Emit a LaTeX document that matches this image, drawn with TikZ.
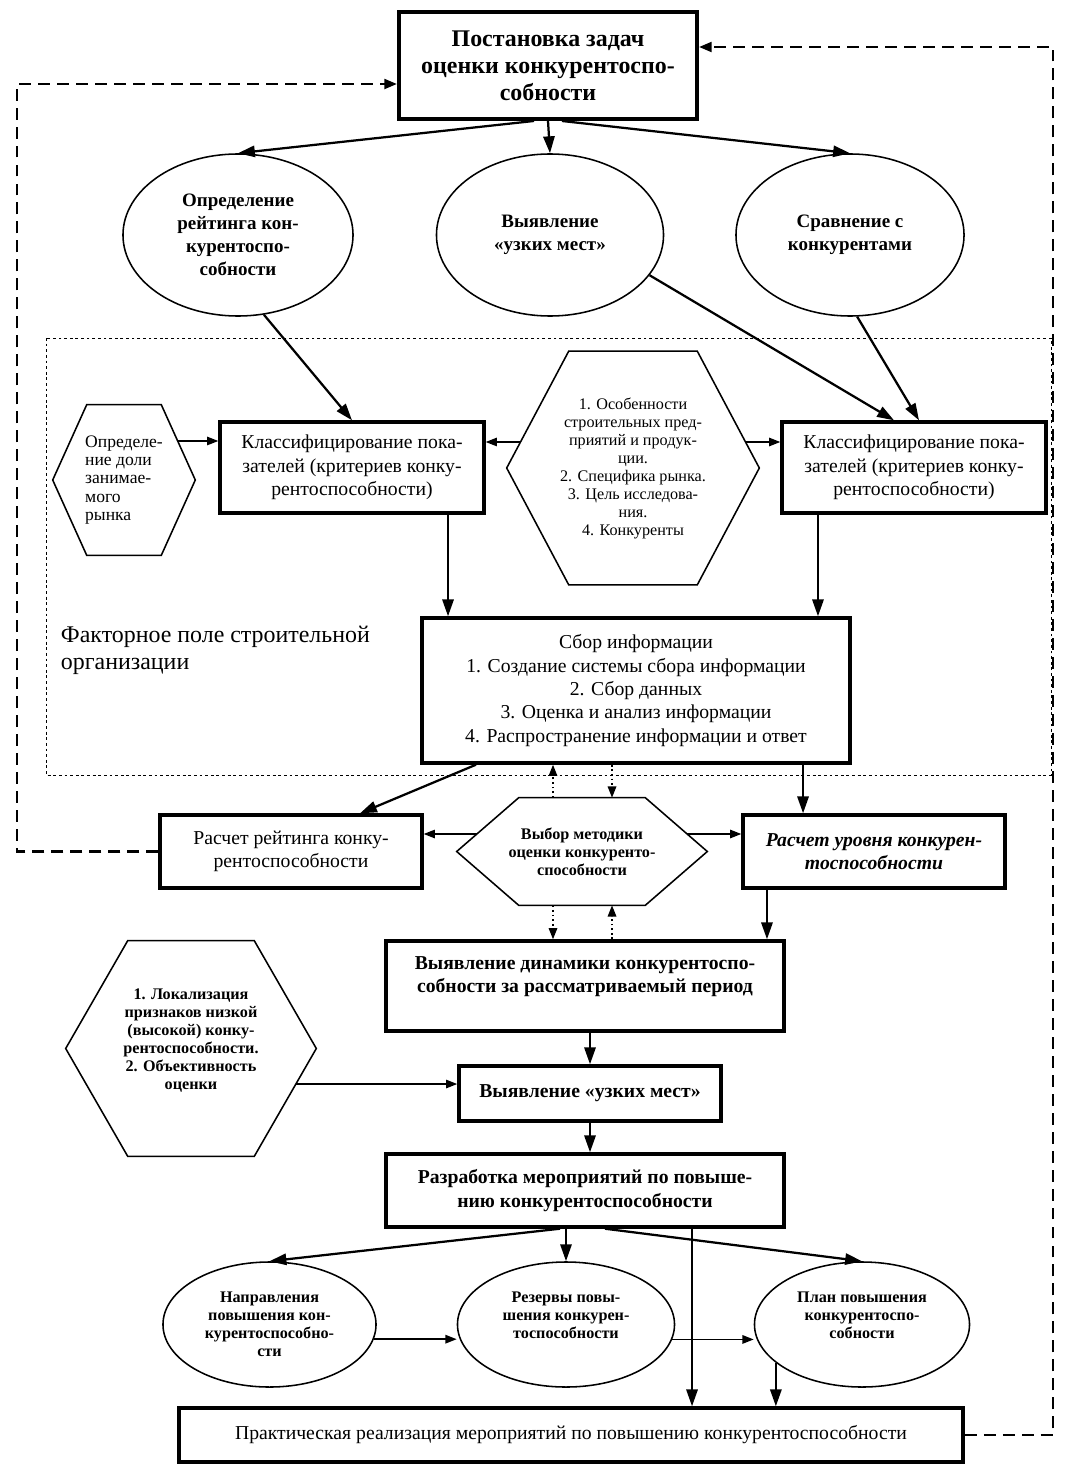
\documentclass[tikz,border=0pt]{standalone}
\usepackage{fontspec}
\setmainfont{Liberation Serif}
\usetikzlibrary{arrows.meta,shapes.geometric}

\tikzset{
  blok/.style={draw, line width=2.4pt, align=center, inner sep=2pt,
    font=\fontsize{14}{16.6}\selectfont},
  oval/.style={draw, ellipse, line width=1.1pt, align=center, inner sep=0pt,
    font=\bfseries\fontsize{13.5}{16.4}\selectfont},
  shest/.style={align=center, inner sep=1pt, font=\fontsize{11.5}{12.8}\selectfont},
  strel/.style={line width=1.6pt, -{Triangle[length=12pt,width=8pt]}},
  tonk/.style={line width=1.1pt, -{Triangle[length=8pt,width=6pt]}},
  tochki/.style={line width=1.3pt, dotted, -{Triangle[length=8pt,width=6pt]}},
  petlya/.style={line width=1.8pt, dash pattern=on 8.5pt off 5pt,
    -{Triangle[length=9pt,width=7pt]}}
}

\begin{document}
\begin{tikzpicture}[x=0.025cm, y=-0.025cm]
    \useasboundingbox (0,0) rectangle (1067,1471);
    % Факторное поле
    \draw[dash pattern=on 2pt off 2pt, line width=0.6pt] (46,338) rectangle (1051,775);
    \node[anchor=west, align=left, font=\fontsize{17}{19.2}\selectfont] (pole) at (56,650)
        {Факторное поле строительной\\организации};
    % Верхний уровень
    \node[blok, line width=2.8pt, minimum width=7.45cm, minimum height=2.675cm,
        font=\bfseries\fontsize{17}{19.2}\selectfont] (top) at (548,65.5)
        {Постановка задач\\оценки конкурентоспо-\\собности};
    \node[oval, minimum width=5.75cm, minimum height=4.05cm] (ellL) at (238,235)
        {Определение\\рейтинга кон-\\курентоспо-\\собности};
    \node[oval, minimum width=5.675cm, minimum height=4.05cm] (ellM) at (550,235)
        {Выявление\\«узких мест»};
    \node[oval, minimum width=5.7cm, minimum height=4.05cm] (ellR) at (850,235)
        {Сравнение с\\конкурентами};
    % Классификация показателей
    \node[shest, align=left, minimum width=3.55cm, minimum height=3.75cm,
        font=\fontsize{12.5}{13}\selectfont] (hexA) at (124,480)
        {Определе-\\ние доли\\занимае-\\мого\\рынка};
    \node[blok, minimum width=6.6cm, minimum height=2.275cm] (clsL) at (352,467.5)
        {Классифицирование пока-\\зателей (критериев конку-\\рентоспособности)};
    \node[shest, minimum width=6.3cm, minimum height=5.825cm] (hexB) at (633,468)
        {1. Особенности\\строительных пред-\\приятий и продук-\\ции.\\2. Специфика рынка.\\3. Цель исследова-\\ния.\\4. Конкуренты};
    \node[blok, minimum width=6.6cm, minimum height=2.275cm] (clsR) at (914,467.5)
        {Классифицирование пока-\\зателей (критериев конку-\\рентоспособности)};
    \node[blok, minimum width=10.7cm, minimum height=3.625cm] (sbor) at (636,690.5)
        {Сбор информации\\1. Создание системы сбора информации\\2. Сбор данных\\3. Оценка и анализ информации\\4. Распространение информации и ответ};
    % Расчеты
    \node[blok, minimum width=6.55cm, minimum height=1.825cm] (rasR) at (291,851.5)
        {Расчет рейтинга конку-\\рентоспособности};
    \node[shest, minimum width=6.25cm, minimum height=2.675cm,
        font=\bfseries\fontsize{11.5}{12.8}\selectfont] (hexC) at (582,851.5)
        {Выбор методики\\оценки конкуренто-\\способности};
    \node[blok, minimum width=6.55cm, minimum height=1.825cm,
        font=\bfseries\itshape\fontsize{14}{16.6}\selectfont] (rasU) at (874,851.5)
        {Расчет уровня конкурен-\\тоспособности};
    % Динамика и узкие места
    \node[blok, minimum width=9.95cm, minimum height=2.25cm,
        font=\bfseries\fontsize{14}{16.6}\selectfont] (dyn) at (585,986)
        {Выявление динамики конкурентоспо-\\собности за рассматриваемый период\\~};
    \node[blok, minimum width=6.55cm, minimum height=1.375cm,
        font=\bfseries\fontsize{14}{16.6}\selectfont] (uzk) at (590,1093.5)
        {Выявление «узких мест»};
    \node[shest, minimum width=6.25cm, minimum height=5.375cm,
        font=\bfseries\fontsize{11.5}{12.8}\selectfont] (hexD) at (191,1048.5)
        {1. Локализация\\признаков низкой\\(высокой) конку-\\рентоспособности.\\2. Объективность\\оценки\\~};
    \node[blok, minimum width=9.95cm, minimum height=1.825cm,
        font=\bfseries\fontsize{14}{16.6}\selectfont] (razr) at (585,1190.5)
        {Разработка мероприятий по повыше-\\нию конкурентоспособности};
    % Мероприятия
    \node[oval, minimum width=5.325cm, minimum height=3.125cm,
        font=\bfseries\fontsize{11.5}{12.8}\selectfont] (cL) at (269.5,1324.5)
        {Направления\\повышения кон-\\курентоспособно-\\сти};
    \node[oval, minimum width=5.425cm, minimum height=3.125cm,
        font=\bfseries\fontsize{11.5}{12.8}\selectfont] (cM) at (566,1324.5)
        {Резервы повы-\\шения конкурен-\\тоспособности\\~};
    \node[oval, minimum width=5.375cm, minimum height=3.125cm,
        font=\bfseries\fontsize{11.5}{12.8}\selectfont] (cR) at (862,1324.5)
        {План повышения\\конкурентоспо-\\собности\\~};
    \node[blok, minimum width=19.6cm, minimum height=1.35cm] (bot) at (571,1435)
        {Практическая реализация мероприятий по повышению конкурентоспособности};
    % Шестиугольники
    \foreach \n/\d in {hexA/0.85cm, hexB/1.55cm, hexC/1.55cm, hexD/1.55cm}
        \draw[line width=1.1pt] (\n.west) -- ([xshift=\d]\n.north west)
            -- ([xshift=-\d]\n.north east) -- (\n.east)
            -- ([xshift=-\d]\n.south east) -- ([xshift=\d]\n.south west) -- cycle;
    % Точки выхода стрелок на сторонах шестиугольников
    \coordinate (aOut) at ([xshift=-0.44cm, yshift=0.975cm]hexA.east);
    \coordinate (bOutL) at ([xshift=0.345cm, yshift=0.65cm]hexB.west);
    \coordinate (bOutR) at ([xshift=-0.345cm, yshift=0.65cm]hexB.east);
    \coordinate (cOutL) at ([xshift=0.5cm, yshift=0.4375cm]hexC.west);
    \coordinate (cOutR) at ([xshift=-0.5cm, yshift=0.4375cm]hexC.east);
    \coordinate (dOut) at ([xshift=-0.51cm, yshift=-0.8875cm]hexD.east);
    % Стрелки сверху
    \draw[strel] ([xshift=-0.35cm]top.south) -- (ellL.north);
    \draw[strel] (top.south) -- (ellM.north);
    \draw[strel] ([xshift=0.35cm]top.south) -- (ellR.north);
    \draw[strel] (ellL.-72) -- (clsL.north);
    \draw[strel] (ellM.-22) -- ([xshift=-0.5cm]clsR.north);
    \draw[strel] (ellR.-85) -- ([xshift=0.125cm]clsR.north);
    \draw[tonk] (aOut) -- (aOut -| clsL.west);
    \draw[tonk] (bOutL) -- (bOutL -| clsL.east);
    \draw[tonk] (bOutR) -- (bOutR -| clsR.west);
    \draw[strel] ([xshift=2.4cm]clsL.south) -- ([xshift=2.4cm]clsL.south |- sbor.north);
    \draw[strel] ([xshift=-2.4cm]clsR.south) -- ([xshift=-2.4cm]clsR.south |- sbor.north);
    % Стрелки от сбора информации
    \draw[strel] ([xshift=-4cm]sbor.south) -- ([xshift=1.725cm]rasR.north);
    \draw[strel] ([xshift=4.175cm]sbor.south) -- ([xshift=4.175cm]sbor.south |- rasU.north);
    \draw[tochki] ([xshift=-0.725cm]hexC.north) -- ([xshift=-0.725cm]hexC.north |- sbor.south);
    \draw[tochki] ([xshift=0.75cm]hexC.north |- sbor.south) -- ([xshift=0.75cm]hexC.north);
    \draw[tochki] ([xshift=-0.725cm]hexC.south) -- ([xshift=-0.725cm]hexC.south |- dyn.north);
    \draw[tochki] ([xshift=0.75cm]hexC.south |- dyn.north) -- ([xshift=0.75cm]hexC.south);
    \draw[tonk] (cOutL) -- (cOutL -| rasR.east);
    \draw[tonk] (cOutR) -- (cOutR -| rasU.west);
    \draw[strel] ([xshift=-2.675cm]rasU.south) -- ([xshift=-2.675cm]rasU.south |- dyn.north);
    % Нижняя часть
    \draw[strel] (dyn.south -| uzk.north) -- (uzk.north);
    \draw[tonk] (dOut) -- (dOut -| uzk.west);
    \draw[strel] (uzk.south) -- (uzk.south |- razr.north);
    \draw[strel] ([xshift=-0.625cm]razr.south) -- (cL.north);
    \draw[strel] (razr.south -| cM.north) -- (cM.north);
    \draw[strel] ([xshift=0.5cm]razr.south) -- (cR.north);
    \draw[strel] ([xshift=2.675cm]razr.south) -- ([xshift=2.675cm]razr.south |- bot.north);
    \draw[tonk] (cL.-8) -- (cL.-8 -| cM.west);
    \draw[tonk] (cM.-8) -- (cM.-8 -| cR.west);
    \draw[strel] (cR.204) -- (cR.204 |- bot.north);
    % Обратные связи
    \coordinate (lpL) at (17,0);
    \coordinate (lpR) at (1053,0);
    \draw[petlya] (rasR.west) -- (rasR.west -| lpL) |- ([yshift=-0.4625cm]top.west);
    \draw[petlya] (bot.east) -- (bot.east -| lpR) |- ([yshift=0.4625cm]top.east);
\end{tikzpicture}
\end{document}
